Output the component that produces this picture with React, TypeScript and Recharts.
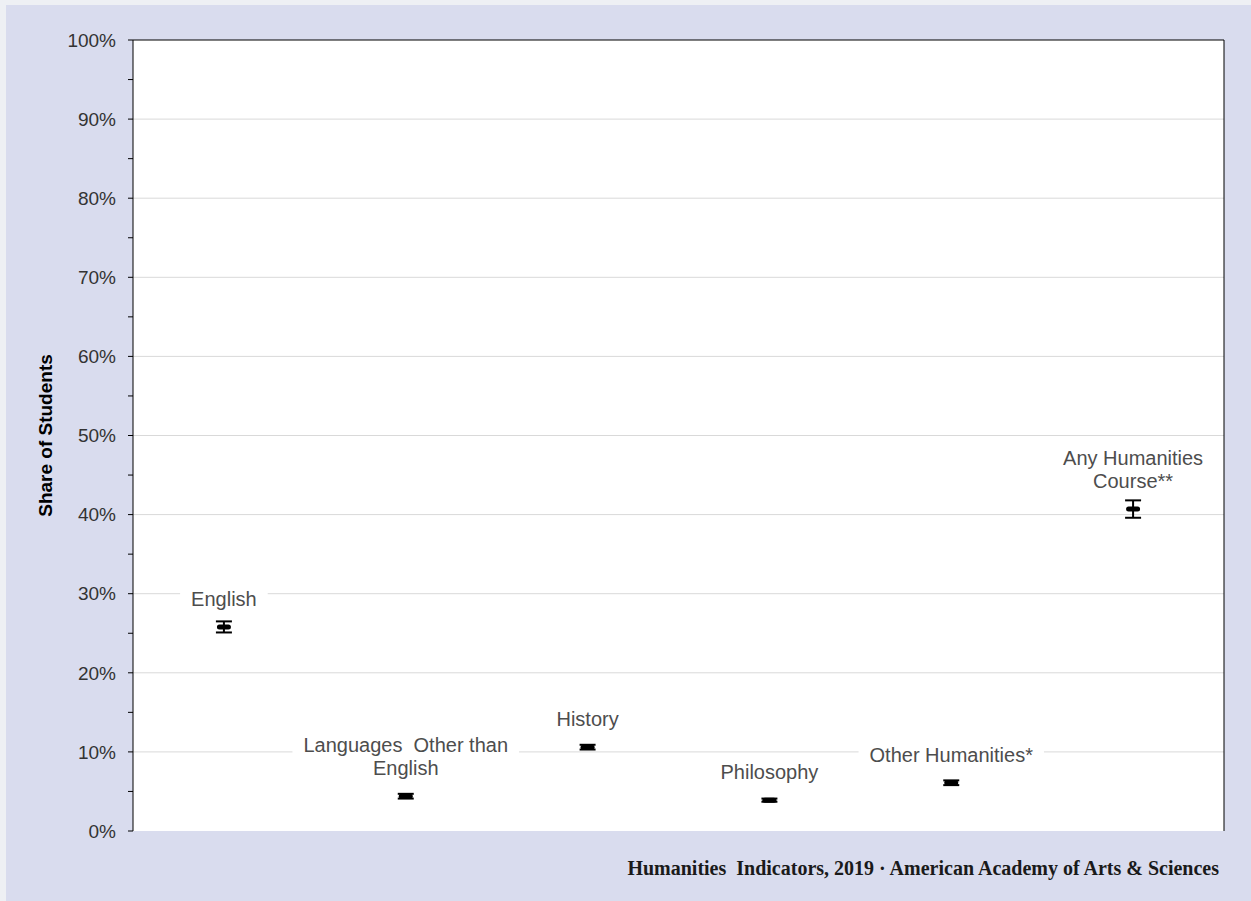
import { ComposedChart, Scatter, ErrorBar, XAxis, YAxis, CartesianGrid, ReferenceLine } from 'recharts'

const categories = ['English', 'Languages Other than English', 'History', 'Philosophy', 'Other Humanities*', 'Any Humanities Course**']
const labelLines = [
  ['English'],
  ['Languages  Other than', 'English'],
  ['History'],
  ['Philosophy'],
  ['Other Humanities*'],
  ['Any Humanities', 'Course**'],
]
const shares = [25.8, 4.4, 10.6, 3.9, 6.1, 40.7]
const errLow = [0.7, 0.3, 0.3, 0.2, 0.3, 1.1]
const errHigh = [0.7, 0.3, 0.3, 0.2, 0.3, 1.1]
const yTicks = [0, 5, 10, 15, 20, 25, 30, 35, 40, 45, 50, 55, 60, 65, 70, 75, 80, 85, 90, 95, 100]
const gridValues = [10, 20, 30, 40, 50, 60, 70, 80, 90]

const data = categories.map((name, i) => ({
  name,
  pos: i,
  value: shares[i],
  err: [errLow[i], errHigh[i]],
  lines: labelLines[i],
}))

const FONT = '"Liberation Sans", Arial, sans-serif'
const LABEL_SIZE = 20

let ctx: CanvasRenderingContext2D | null = null
function measure(text: string) {
  if (!ctx) ctx = document.createElement('canvas').getContext('2d')
  if (!ctx) return text.length * LABEL_SIZE * 0.5
  ctx.font = `${LABEL_SIZE}px ${FONT}`
  return ctx.measureText(text).width
}

// dash marker plus the category label with a white box behind it
function DashPoint(props: any) {
  const { cx, cy, payload } = props
  const lines: string[] = payload.lines
  const lineH = 23
  const lastC = cy - 28
  const firstC = lastC - lineH * (lines.length - 1)
  const w = Math.max(...lines.map(measure)) + 22
  return (
    <g>
      <rect x={cx - w / 2} y={firstC - 12} width={w} height={lastC - firstC + 24} fill="#fff" />
      {lines.map((t, k) => (
        <text key={k} x={cx} y={firstC + k * lineH + 7} textAnchor="middle" fontSize={LABEL_SIZE}
          fontFamily={FONT} fill="#4d4d4d" style={{ whiteSpace: 'pre' }}>
          {t}
        </text>
      ))}
      <rect x={cx - 7} y={cy - 2.5} width={14} height={5} rx={2.5} fill="#000" />
    </g>
  )
}

export default function App() {
  return (
    <div style={{ position: 'absolute', left: 0, top: 0, width: 1251, height: 901, background: '#eef0f4' }}>
      <div style={{ position: 'absolute', left: 6, top: 5, width: 1245, height: 896, background: '#d9dcee' }} />
      <div style={{ position: 'absolute', left: 0, top: 0 }}>
        <ComposedChart width={1251} height={901} data={data} margin={{ top: 40, right: 27, bottom: 70, left: 63 }}>
          <CartesianGrid fill="#fff" stroke="#d9d9d9" vertical={false} horizontalValues={gridValues} />
          <XAxis dataKey="pos" type="number" domain={[-0.5, 5.5]} tick={false} tickLine={false} height={0} axisLine={{ stroke: '#000' }} />
          <YAxis
            domain={[0, 100]}
            ticks={yTicks}
            interval={0}
            width={70}
            tickSize={5}
            tickMargin={12}
            axisLine={{ stroke: '#000' }}
            tickLine={{ stroke: '#000' }}
            tick={{ fill: '#333', fontSize: 19, fontFamily: FONT }}
            tickFormatter={(v: number) => (v % 10 === 0 ? `${v}%` : '')}
            label={{ value: 'Share of Students', angle: -90, position: 'left', offset: 18, textAnchor: 'middle', fill: '#000', fontSize: 19, fontWeight: 'bold', fontFamily: FONT }}
          />
          <ReferenceLine y={100} stroke="#000" />
          <ReferenceLine x={5.5} stroke="#000" />
          <Scatter dataKey="value" shape={DashPoint} isAnimationActive={false}>
            <ErrorBar dataKey="err" direction="y" width={8} stroke="#000" strokeWidth={2} isAnimationActive={false} />
          </Scatter>
        </ComposedChart>
      </div>
      <div style={{ position: 'absolute', right: 32, top: 857, fontFamily: '"Liberation Serif", serif', fontWeight: 'bold', fontSize: 20, color: '#1a1a1a', whiteSpace: 'pre' }}>
        Humanities  Indicators, 2019 · American Academy of Arts &amp; Sciences
      </div>
    </div>
  )
}
